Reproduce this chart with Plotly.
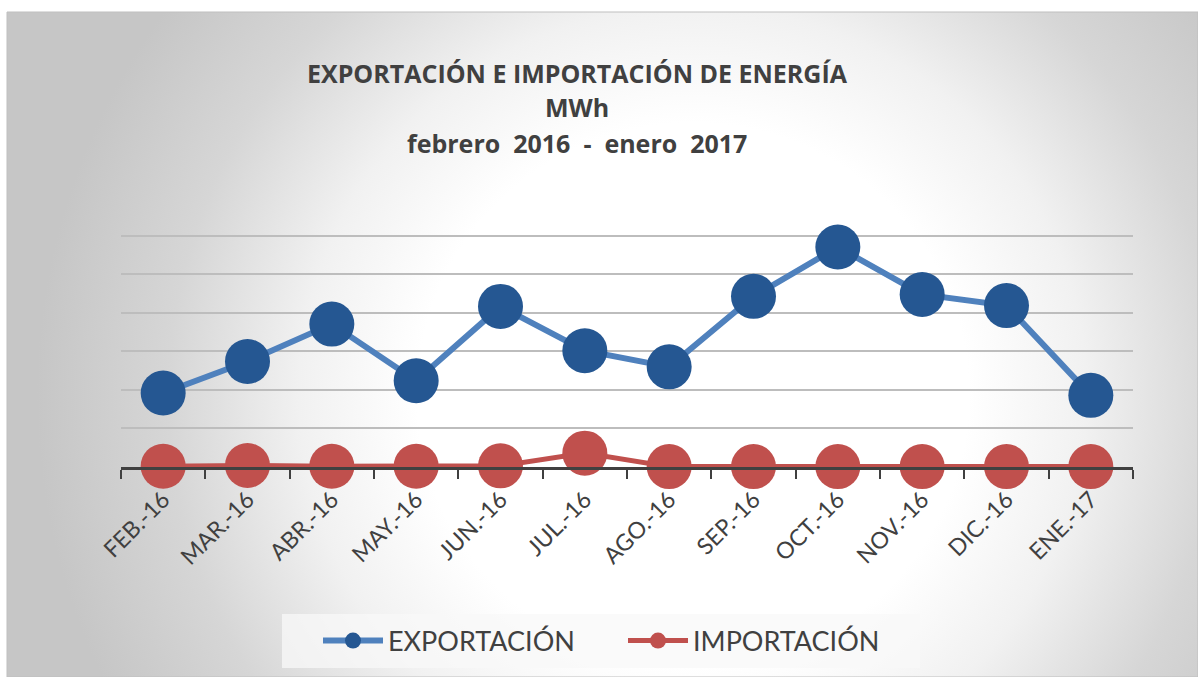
import base64
import plotly.graph_objects as go

# ---- data ----
meses = ["FEB.-16", "MAR.-16", "ABR.-16", "MAY.-16", "JUN.-16", "JUL.-16",
         "AGO.-16", "SEP.-16", "OCT.-16", "NOV.-16", "DIC.-16", "ENE.-17"]
exportacion = [192, 274, 371, 224, 417, 302, 260, 443, 571, 448, 419, 186]
importacion = [2, 4, 2, 2, 3, 36, 1, 1, 1, 1, 1, 1]
y_ticks = [0, 100, 200, 300, 400, 500, 600, 700]

W, H = 1198, 677
FONT = "Lato"
TFONT = "Open Sans"

def px(x):
    return x / W

def py(y):
    return (H - y) / H

svg = f'''<svg xmlns="http://www.w3.org/2000/svg" width="{W}" height="{H}" viewBox="0 0 {W} {H}" preserveAspectRatio="none">
<defs><radialGradient id="g" gradientUnits="userSpaceOnUse" cx="690" cy="390" r="660" fx="690" fy="390">
<stop offset="0" stop-color="#ffffff"/>
<stop offset="0.42" stop-color="#ffffff"/>
<stop offset="0.6" stop-color="#f1f1f1"/>
<stop offset="0.8" stop-color="#d6d6d6"/>
<stop offset="1" stop-color="#c6c6c6"/>
</radialGradient></defs>
<rect x="0" y="0" width="{W}" height="{H}" fill="url(#g)"/>
</svg>'''
src = "data:image/svg+xml;base64," + base64.b64encode(svg.encode()).decode()

fig = go.Figure()
fig.add_trace(go.Scatter(
    x=meses, y=exportacion, name="EXPORTACIÓN", mode="lines+markers",
    line=dict(color="#4F81BD", width=6),
    marker=dict(color="#255792", size=45),
    cliponaxis=False,
))
fig.add_trace(go.Scatter(
    x=meses, y=importacion, name="IMPORTACIÓN", mode="lines+markers",
    line=dict(color="#C0504D", width=5),
    marker=dict(color="#C0504D", size=45),
    cliponaxis=False,
))

titles = [("EXPORTACIÓN E IMPORTACIÓN DE ENERGÍA", 73),
          ("MWh", 107),
          ("febrero  2016  -  enero  2017", 143)]
annotations = [
    dict(text=f"<b>{t}</b>", x=px(577), y=py(yy), xref="paper", yref="paper",
         showarrow=False, xanchor="center", yanchor="middle",
         font=dict(family=TFONT, size=25, color="#404040"))
    for t, yy in titles
]

fig.update_layout(
    width=W, height=H,
    margin=dict(l=0, r=0, t=0, b=0, autoexpand=False),
    paper_bgcolor="white",
    plot_bgcolor="rgba(0,0,0,0)",
    font=dict(family=FONT, color="#404040"),
    annotations=annotations,
    images=[dict(source=src, xref="paper", yref="paper", x=px(7), y=py(12),
                 sizex=1 - px(7), sizey=py(12), xanchor="left", yanchor="top",
                 sizing="stretch", layer="below")],
    shapes=[
        dict(type="rect", xref="paper", yref="paper", x0=px(7), x1=1.0,
             y0=0, y1=py(12), line=dict(color="#BFBFBF", width=1), layer="below"),
        dict(type="rect", xref="paper", yref="paper", x0=px(282), x1=px(920),
             y0=py(668), y1=py(614), fillcolor="rgba(248,248,248,0.75)",
             line=dict(width=0), layer="below"),
    ],
    xaxis=dict(
        domain=[px(121), px(1133)],
        type="category",
        range=[-0.5, len(meses) - 0.5],
        automargin=False,
        showgrid=False,
        showline=True, linecolor="#404040", linewidth=3,
        ticks="outside", tickson="boundaries", ticklen=9, tickwidth=2,
        tickcolor="#404040",
        tickangle=-45,
        ticklabelstandoff=7,
        tickfont=dict(family=FONT, size=23, color="#404040"),
    ),
    yaxis=dict(
        domain=[py(467), py(197)],
        range=[0, 701],
        automargin=False,
        tickvals=y_ticks,
        showticklabels=False,
        showgrid=True, gridcolor="#BDBDBD", gridwidth=1.5,
        zeroline=False, showline=False,
    ),
    legend=dict(
        orientation="h", x=px(318), y=py(641), xanchor="left", yanchor="middle",
        bgcolor="rgba(0,0,0,0)", font=dict(family=FONT, size=27, color="#404040"),
        itemwidth=60, entrywidth=230, entrywidthmode="pixels",
    ),
    showlegend=True,
)

fig.write_html("out.html", config={"displayModeBar": False},
               post_script="document.body.style.margin='0';")
